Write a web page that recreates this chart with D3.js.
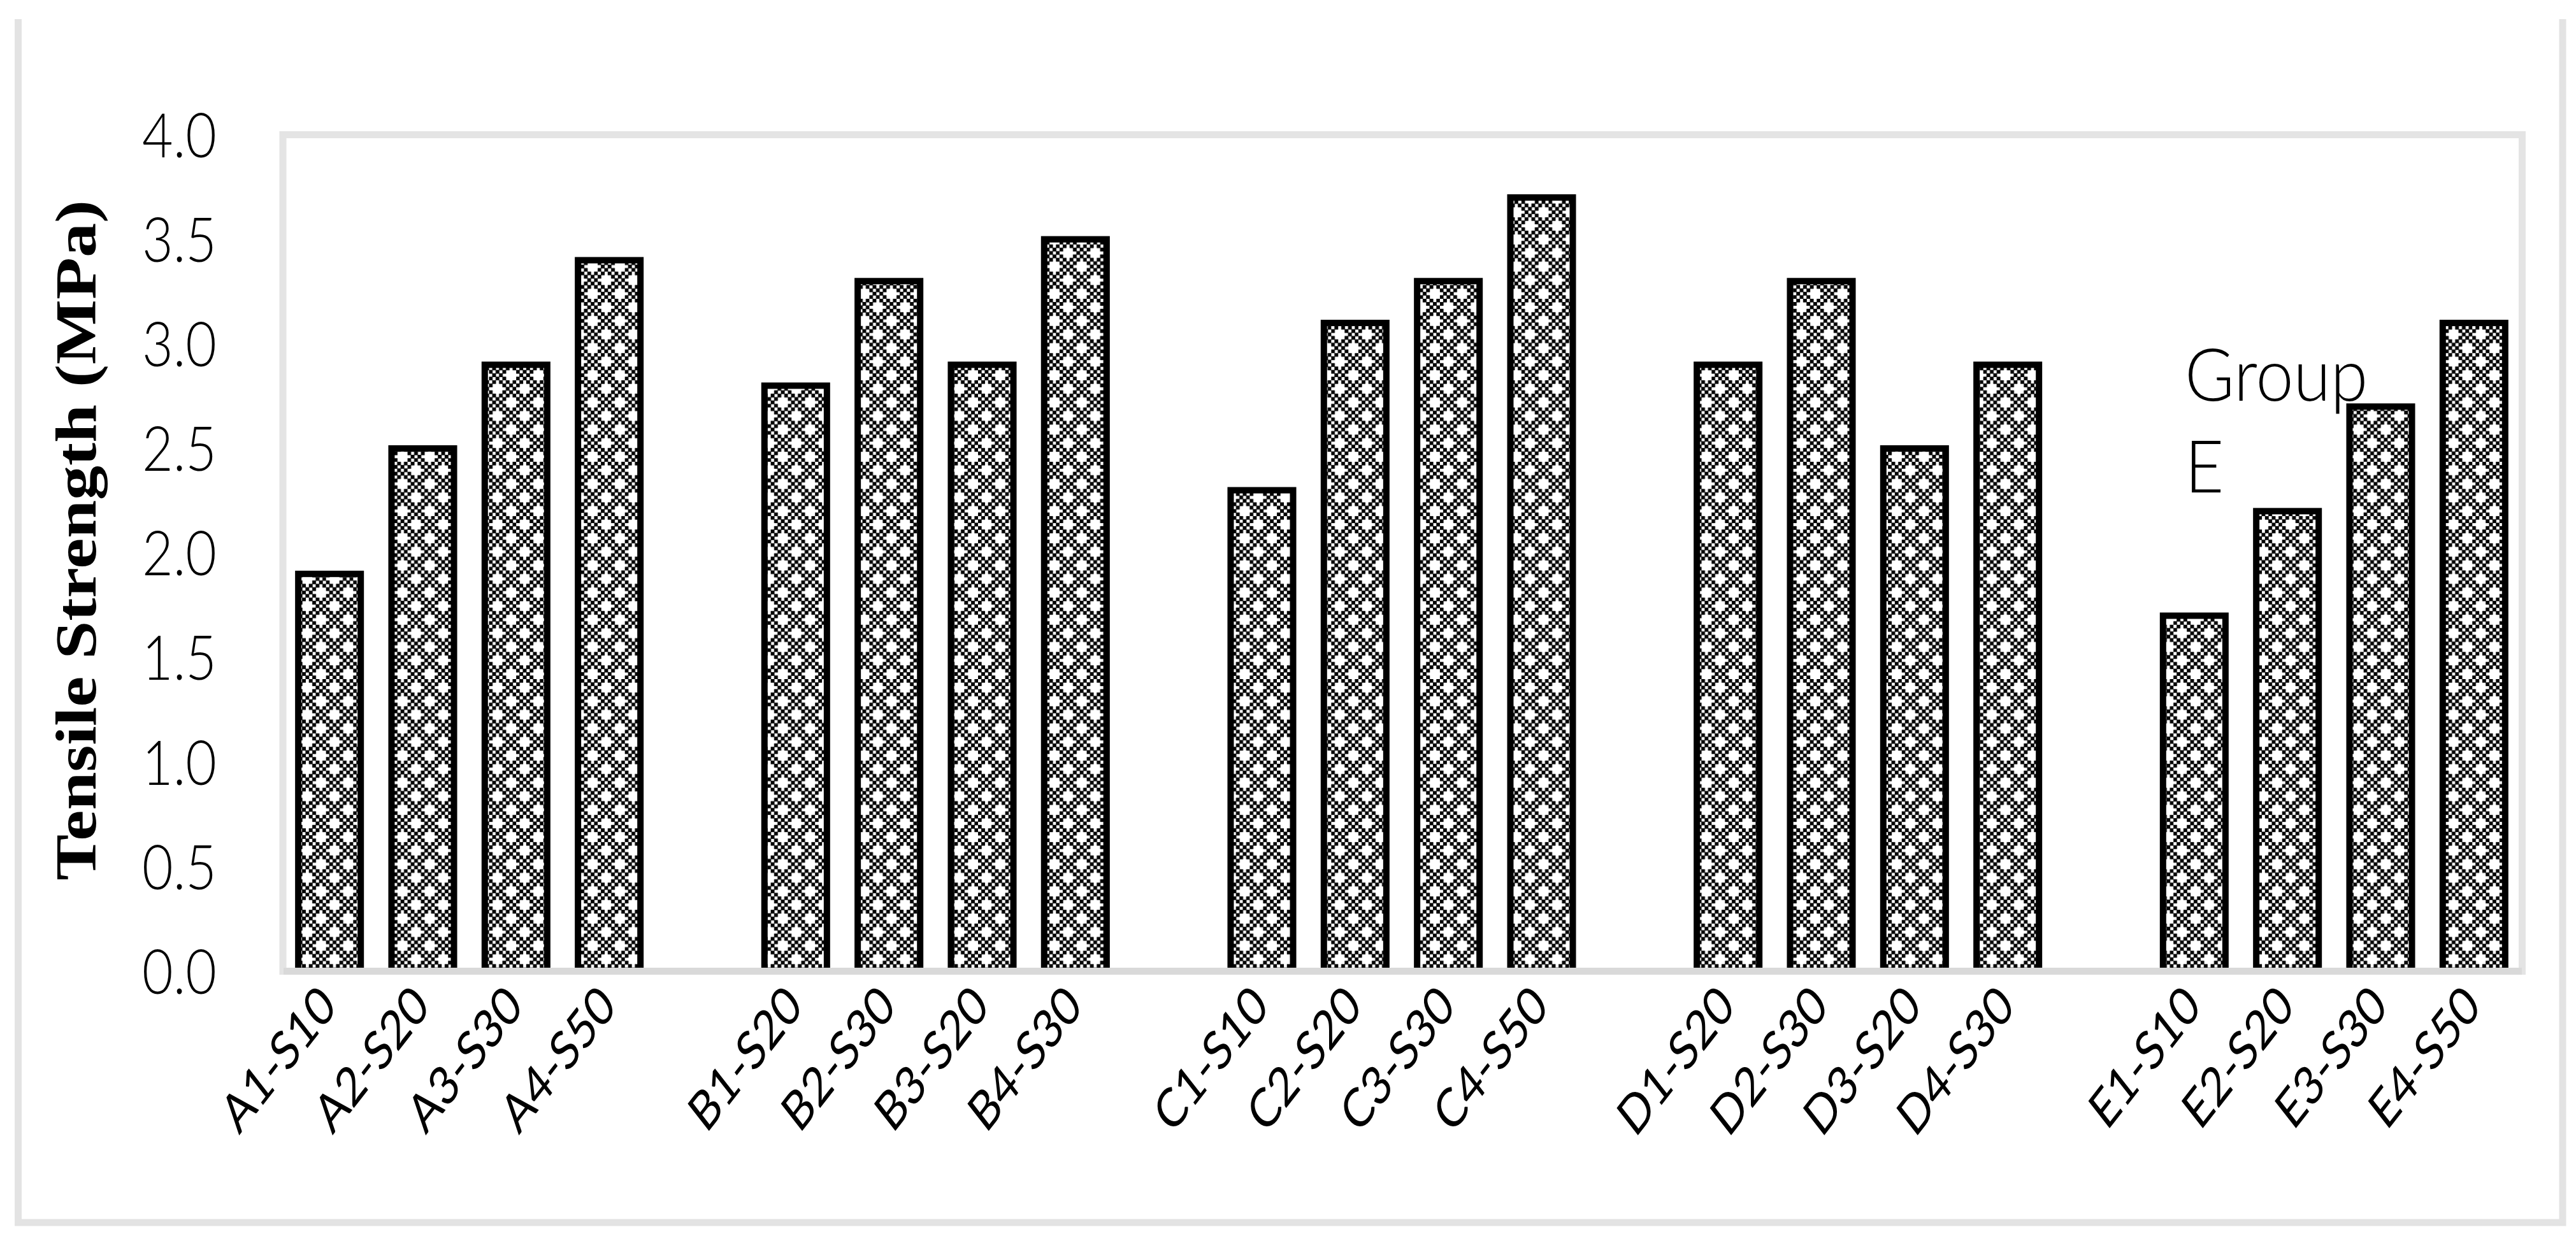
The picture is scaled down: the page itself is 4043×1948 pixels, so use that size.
<!DOCTYPE html>
<html>
<head>
<meta charset="utf-8">
<script src="https://cdn.jsdelivr.net/npm/d3@7/dist/d3.min.js"></script>
<style>
  html, body { margin: 0; padding: 0; background: #ffffff; }
  svg { display: block; }
</style>
</head>
<body>
<svg id="chart" width="4043" height="1948"></svg>
<script>
// ---------------- data ----------------
const groups = ["A", "B", "C", "D", "E"];
const categories = [
  "A1-S10", "A2-S20", "A3-S30", "A4-S50",
  "B1-S20", "B2-S30", "B3-S20", "B4-S30",
  "C1-S10", "C2-S20", "C3-S30", "C4-S50",
  "D1-S20", "D2-S30", "D3-S20", "D4-S30",
  "E1-S10", "E2-S20", "E3-S30", "E4-S50"
];
const values = [
  1.9, 2.5, 2.9, 3.4,
  2.8, 3.3, 2.9, 3.5,
  2.3, 3.1, 3.3, 3.7,
  2.9, 3.3, 2.5, 2.9,
  1.7, 2.2, 2.7, 3.1
];
const yTicks = [0, 0.5, 1.0, 1.5, 2.0, 2.5, 3.0, 3.5, 4.0];
const yTitle = "Tensile Strength (MPa)";
const annotationLines = ["Group", "E"];

// ---------------- layout ----------------
const plot = { left: 444, right: 3956, top: 211.5, bottom: 1524.5 };
const svg = d3.select("#chart");
const sansFont = "Lato, 'Liberation Sans', sans-serif";

// slots: 4 bars per group followed by an empty slot
const slots = [];
groups.forEach((g, gi) => {
  categories.filter(c => c[0] === g).forEach(c => slots.push(c));
  if (gi < groups.length - 1) slots.push("_gap_" + g);
});

const x = d3.scaleBand().domain(slots).range([plot.left, plot.right]).paddingInner(0.33).paddingOuter(0.165);
const y = d3.scaleLinear().domain([0, 4]).range([plot.bottom, plot.top]);

// pattern (checkerboard with white plus marks)
const cell = 5.33, n = 8;
const defs = svg.append("defs");
const pat = defs.append("pattern").attr("id", "chk")
  .attr("patternUnits", "userSpaceOnUse")
  .attr("width", cell * n).attr("height", cell * n);
pat.append("rect").attr("width", cell * n).attr("height", cell * n).attr("fill", "#fff");
const plusCells = new Set();
[[2, 2], [6, 6]].forEach(([cx, cy]) => {
  [[0,0],[1,0],[-1,0],[0,1],[0,-1]].forEach(([dx, dy]) => plusCells.add((cx+dx) + "," + (cy+dy)));
});
const blackCells = [];
for (let i = 0; i < n; i++) for (let j = 0; j < n; j++) {
  if ((i + j) % 2 === 1 && !plusCells.has(i + "," + j)) blackCells.push([i, j]);
}
const grow = 0.6;
pat.selectAll("rect.c").data(blackCells).join("rect").attr("class", "c")
  .attr("x", d => d[0] * cell - grow / 2).attr("y", d => d[1] * cell - grow / 2)
  .attr("width", cell + grow).attr("height", cell + grow).attr("fill", "#000");

// outer frame (left, right, bottom)
svg.append("path")
  .attr("d", `M28.5,30 V1919 H4022 V30`)
  .attr("fill", "none").attr("stroke", "#e3e3e3").attr("stroke-width", 11);

// plot area frame
svg.append("rect")
  .attr("x", plot.left).attr("y", plot.top)
  .attr("width", plot.right + 2.5 - plot.left).attr("height", plot.bottom - plot.top)
  .attr("fill", "none").attr("stroke", "#e4e4e4").attr("stroke-width", 11);

// bars
const data = categories.map((c, i) => ({ c, v: values[i] }));
svg.append("g").selectAll("rect").data(data).join("rect")
  .attr("x", d => x(d.c))
  .attr("width", x.bandwidth())
  .attr("y", d => y(d.v))
  .attr("height", d => y(0) - y(d.v))
  .attr("fill", "url(#chk)")
  .attr("stroke", "#000")
  .attr("stroke-width", 10);

// x axis line
svg.append("line")
  .attr("x1", plot.left + 1).attr("x2", plot.right + 2)
  .attr("y1", plot.bottom).attr("y2", plot.bottom)
  .attr("stroke", "#d9d9d9").attr("stroke-width", 11);

// y axis (labels only)
const yAxis = d3.axisLeft(y).tickValues(yTicks).tickFormat(d3.format(".1f")).tickSize(0).tickPadding(0);
const gy = svg.append("g").attr("transform", `translate(340,0)`).call(yAxis);
gy.select(".domain").remove();
gy.selectAll("text")
  .attr("font-family", sansFont)
  .attr("font-weight", 300)
  .attr("font-size", 84)
  .attr("fill", "#000")
  .attr("x", 0).attr("dy", "0.36em")
  .attr("transform", "scale(1,1.15)")
  .attr("text-anchor", "end");

// x axis (rotated labels)
const xAxis = d3.axisBottom(x).tickValues(categories).tickSize(0).tickPadding(0);
const gx = svg.append("g").attr("transform", `translate(0,${plot.bottom + 6})`).call(xAxis);
gx.select(".domain").remove();
gx.selectAll("text")
  .attr("font-family", sansFont)
  .attr("font-weight", 400)
  .attr("font-size", 66)
  .attr("fill", "#000")
  .attr("x", 0).attr("y", 0).attr("dy", "0.72em")
  .attr("text-anchor", "end")
  .attr("transform", "translate(-20,10) scale(1,1.28) rotate(-45)");

// y axis title
svg.append("text")
  .attr("transform", "translate(150,848) scale(1,1.2) rotate(-90)")
  .attr("text-anchor", "middle")
  .attr("font-family", "'Liberation Serif', 'Times New Roman', serif")
  .attr("font-weight", "bold")
  .attr("font-size", 90)
  .attr("fill", "#000")
  .text(yTitle);

// annotation "Group E"
const ann = svg.append("g").attr("transform", "translate(3429,0)");
ann.selectAll("text").data(annotationLines).join("text")
  .attr("transform", (d, i) => `translate(0,${629 + i * 144}) scale(1,1.08)`)
  .attr("font-family", sansFont)
  .attr("font-weight", 300)
  .attr("font-size", 106)
  .attr("fill", "#000")
  .text(d => d);
</script>
</body>
</html>
